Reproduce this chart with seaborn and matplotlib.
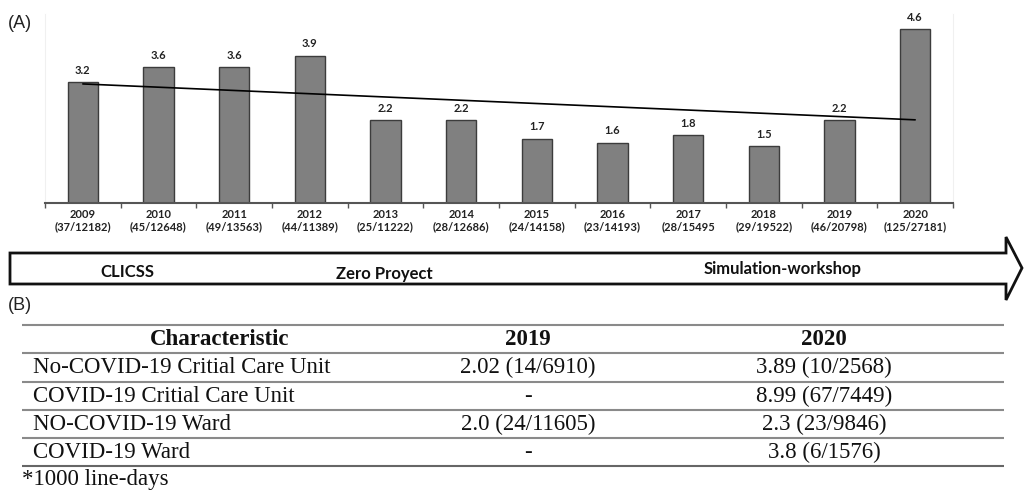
import numpy as np
import pandas as pd
import matplotlib
matplotlib.use("Agg")
import matplotlib.pyplot as plt
from matplotlib.patches import Polygon
import seaborn as sns

# ---------------- data ----------------
years = ["2009", "2010", "2011", "2012", "2013", "2014", "2015", "2016",
         "2017", "2018", "2019", "2020"]
counts = ["(37/12182)", "(45/12648)", "(49/13563)", "(44/11389)", "(25/11222)",
          "(28/12686)", "(24/14158)", "(23/14193)", "(28/15495", "(29/19522)",
          "(46/20798)", "(125/27181)"]
rates = [3.2, 3.6, 3.6, 3.9, 2.2, 2.2, 1.7, 1.6, 1.8, 1.5, 2.2, 4.6]

phases = ["CLICSS", "Zero Proyect", "Simulation-workshop"]

table_header = ["Characteristic", "2019", "2020"]
table_rows = ["No-COVID-19 Critial Care Unit", "COVID-19 Critial Care Unit",
              "NO-COVID-19 Ward", "COVID-19 Ward"]
table_2019 = ["2.02 (14/6910)", "-", "2.0 (24/11605)", "-"]
table_2020 = ["3.89 (10/2568)", "8.99 (67/7449)", "2.3 (23/9846)", "3.8 (6/1576)"]
footnote = "*1000 line-days"

# ---------------- style ----------------
sns.set_theme(style="white")
plt.rcParams["font.family"] = ["Lato", "DejaVu Sans"]

W, H = 1024, 490
fig = plt.figure(figsize=(W / 100, H / 100), dpi=100)
fig.patch.set_facecolor("white")

def fx(px):
    return px / W

def fy(py):
    return 1 - py / H

# bar axes
ax_l, ax_r, ax_base, ax_top = 45, 953, 203, 14
ax = fig.add_axes([fx(ax_l), fy(ax_base), fx(ax_r - ax_l), (ax_base - ax_top) / H])

df = pd.DataFrame({"year": years, "rate": rates})
sns.barplot(data=df, x="year", y="rate", color="#808080", saturation=1,
            width=0.4, edgecolor="#3c3c3c", linewidth=1.0, ax=ax, zorder=2)
ax.bar_label(ax.containers[0], fmt="%.1f", padding=4.5, fontsize=8,
             fontweight="bold", color="#222222")

sns.regplot(x=np.arange(len(rates)), y=rates, scatter=False, ci=None,
            truncate=True, color="black", line_kws={"linewidth": 1.2, "zorder": 3},
            ax=ax)

ax.set_xlim(-0.5, len(years) - 0.5)
ax.set_ylim(0, 5)
ax.set_xlabel("")
ax.set_ylabel("")
ax.set_yticks([])
ax.set_xticks(np.arange(len(years)))
ax.set_xticklabels([f"{y}\n{c}" for y, c in zip(years, counts)], fontsize=8,
                   fontweight="bold", color="#222222", linespacing=1.05)
ax.set_xticks(np.arange(len(years) + 1) - 0.5, minor=True)
ax.tick_params(axis="x", which="major", length=0, pad=4.5)
ax.tick_params(axis="x", which="minor", length=3.5, width=1.0, color="#555555",
               direction="out", bottom=True)
ax.spines["top"].set_visible(False)
for s in ["left", "right"]:
    ax.spines[s].set_color("#f0f0f0")
    ax.spines[s].set_linewidth(0.8)
ax.spines["bottom"].set_color("#555555")
ax.spines["bottom"].set_linewidth(1.5)
ax.patch.set_alpha(0)

# overlay axes in pixel coordinates
ov = fig.add_axes([0, 0, 1, 1])
ov.set_xlim(0, W)
ov.set_ylim(H, 0)
ov.axis("off")
ov.patch.set_alpha(0)

ov.text(8, 24, "(A)", fontsize=13, family=["Liberation Sans", "DejaVu Sans"],
        va="center", ha="left", color="#222222")
ov.text(8, 305, "(B)", fontsize=13, family=["Liberation Sans", "DejaVu Sans"],
        va="center", ha="left", color="#222222")

# arrow
arrow_pts = [(10, 253), (1006, 253), (1006, 237), (1022, 268), (1006, 300),
             (1006, 284), (10, 284)]
ov.add_patch(Polygon(arrow_pts, closed=True, facecolor="white",
                     edgecolor="#111111", linewidth=2.0, joinstyle="miter"))
for label, xc, yc in zip(phases, [127, 384, 783], [272, 274, 269]):
    ov.text(xc, yc, label, fontsize=12, fontweight="bold", ha="center",
            va="center", color="#111111")

# table
serif = ["Liberation Serif", "DejaVu Serif"]
line_ys = [325, 353, 382, 410, 438, 466]
for i, ly in enumerate(line_ys):
    ov.plot([22, 1004], [ly, ly], color="#8a8a8a" if i < 5 else "#666666",
            linewidth=1.5, solid_capstyle="butt")

fs = 16.5
col_x = [220, 528, 824]
for txt, xc in zip(table_header, col_x):
    ov.text(xc, 339, txt, fontsize=fs, fontweight="bold", family=serif,
            ha="center", va="center", color="#111111")
row_ys = [367, 396, 424, 452]
for name, v19, v20, ry in zip(table_rows, table_2019, table_2020, row_ys):
    ov.text(33, ry, name, fontsize=fs, family=serif, ha="left", va="center",
            color="#111111")
    ov.text(col_x[1], ry, v19, fontsize=fs, family=serif, ha="center",
            va="center", color="#111111")
    ov.text(col_x[2], ry, v20, fontsize=fs, family=serif, ha="center",
            va="center", color="#111111")
ov.text(22, 479, footnote, fontsize=fs, family=serif, ha="left", va="center",
        color="#111111")

fig.savefig("out.png", dpi=100, facecolor="white")
